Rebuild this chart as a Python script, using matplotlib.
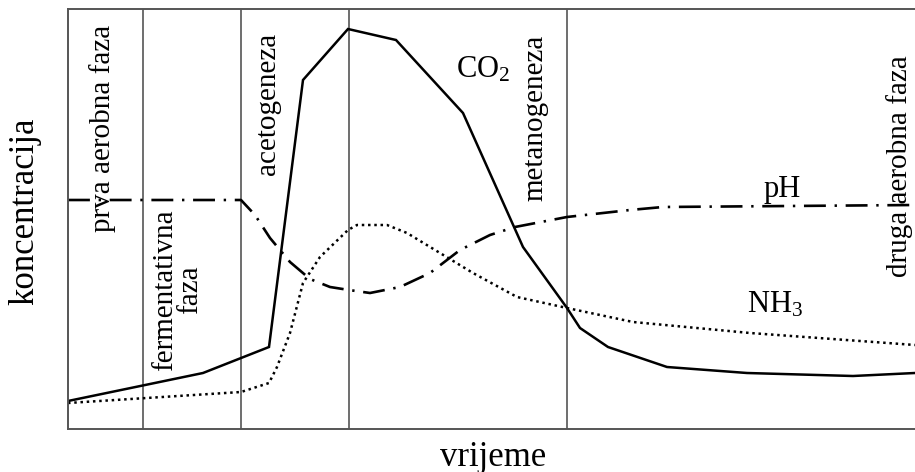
import matplotlib
matplotlib.use("Agg")
import matplotlib.pyplot as plt

plt.rcParams['font.family'] = ['Liberation Serif', 'DejaVu Serif']
plt.rcParams['mathtext.fontset'] = 'custom'
plt.rcParams['mathtext.rm'] = 'Liberation Serif'
plt.rcParams['mathtext.it'] = 'Liberation Serif:italic'

# phase boundaries (time units)
phase_bounds = [75, 173, 281, 499]
phase_labels = ["prva aerobna faza", "fermentativna\nfaza", "acetogeneza",
                "metanogeneza", "druga aerobna faza"]

co2_x = [0, 135, 201, 235, 280, 328, 395, 455, 499, 512, 540, 599, 679, 785, 847]
co2_y = [28, 56, 82, 349, 400, 389, 316, 182, 121, 101, 82, 62, 56, 53, 56]

ph_x = [0, 173, 187, 202, 222, 242, 262, 281, 302, 332, 362, 392, 422, 447, 499, 562, 595, 847]
ph_y = [229, 229, 214, 191, 167, 150, 142, 139, 136, 142, 156, 179, 194, 202, 212, 219, 222, 224]

nh3_x = [0, 173, 201, 209, 222, 235, 252, 280, 289, 319, 339, 372, 405, 449, 499, 565, 682, 847]
nh3_y = [26, 37, 46, 62, 96, 146, 172, 199, 204, 204, 196, 176, 156, 132, 121, 107, 96, 84]

W, H = 915, 472
fig = plt.figure(figsize=(W / 100, H / 100), dpi=100)
ax = fig.add_axes([68 / W, 1 - 429 / H, 1 - 68 / W, (429 - 9) / H])
ax.set_xlim(0, 847)
ax.set_ylim(0, 420)
ax.set_xticks([])
ax.set_yticks([])
for s in ['left', 'top', 'bottom']:
    ax.spines[s].set_color('#555555')
    ax.spines[s].set_linewidth(1.4)
ax.spines['right'].set_visible(False)

for b in phase_bounds:
    ax.axvline(b, color='#555555', lw=1.2)

ax.plot(co2_x, co2_y, color='black', lw=1.8, solid_joinstyle='miter')
ax.plot(ph_x, ph_y, color='black', lw=1.9, dashes=(8.3, 3.3, 0.9, 3.3))
ax.plot(nh3_x, nh3_y, color='black', lw=1.8, dashes=(1.0, 1.5))


def fx(px):
    return px / W


def fy(py):
    return 1 - py / H


fs = 21
pos = [(103, 128), (178, 290), (268, 104), (535, 118), (900, 166)]
for (px, py), lab in zip(pos, phase_labels):
    fig.text(fx(px), fy(py), lab, rotation=90, ha='center', va='center',
             fontsize=fs, multialignment='center', linespacing=0.95)

fig.text(fx(483), fy(70), r'CO$_\mathrm{2}$', ha='center', va='center', fontsize=22)
fig.text(fx(782), fy(190), 'pH', ha='center', va='center', fontsize=22)
fig.text(fx(775), fy(305), r'NH$_\mathrm{3}$', ha='center', va='center', fontsize=22)

fig.text(fx(25), fy(211), 'koncentracija', rotation=90, ha='center', va='center', fontsize=25)
fig.text(fx(493), fy(457), 'vrijeme', ha='center', va='center', fontsize=25)

fig.savefig('out.png', dpi=100)
